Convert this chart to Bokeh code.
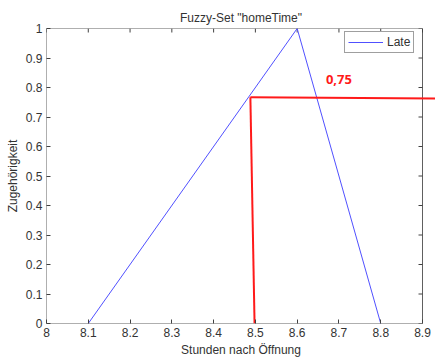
import math
from bokeh.plotting import figure
from bokeh.models import FixedTicker, Range1d, Legend, LegendItem
from bokeh.embed import file_html
from bokeh.resources import INLINE

# data
late_x = [8.1, 8.6, 8.8]
late_y = [0.0, 1.0, 0.0]
cut_v_x = [8.498, 8.488]
cut_v_y = [0.0, 0.767]
cut_h_x = [8.488, 8.935]
cut_h_y = [0.767, 0.763]
x_ticks = [8.0, 8.1, 8.2, 8.3, 8.4, 8.5, 8.6, 8.7, 8.8, 8.9]
x_labels = ["8", "8.1", "8.2", "8.3", "8.4", "8.5", "8.6", "8.7", "8.8", "8.9"]
y_ticks = [0.0, 0.1, 0.2, 0.3, 0.4, 0.5, 0.6, 0.7, 0.8, 0.9, 1.0]
y_labels = ["0", "0.1", "0.2", "0.3", "0.4", "0.5", "0.6", "0.7", "0.8", "0.9", "1"]
title_text = 'Fuzzy-Set "homeTime"'
note_text = "0,75"
note_x, note_y = 8.70, 0.828

FONT = "Liberation Sans"
AX = "#606060"
TICK = "#404040"
TXT = "#333333"

W, H = 435, 359
LEFT, TOP, BOTTOM = 46, 28, 35
axis_px = 376  # pixels spanned by the axis box 8.0 .. 8.9
x0, x1 = x_ticks[0], x_ticks[-1]
# let the frame run to the right edge so the red marker can leave the axis box
x_end = x0 + (x1 - x0) * (W - LEFT) / axis_px

p = figure(width=W, height=H, output_backend="svg", toolbar_location=None,
           x_range=Range1d(x0, x_end), y_range=Range1d(y_ticks[0], y_ticks[-1]),
           min_border_left=LEFT, min_border_right=0, min_border_top=TOP, min_border_bottom=BOTTOM)
p.grid.visible = False
p.outline_line_color = None
p.background_fill_color = "white"
p.border_fill_color = "white"

p.title.text = title_text
p.title.align = "center"
p.title.offset = -6
p.title.standoff = 7
p.title.text_font = FONT
p.title.text_font_size = "12px"
p.title.text_font_style = "normal"
p.title.text_color = TXT


def style_axis(ax, ticks, labels):
    ax.ticker = FixedTicker(ticks=ticks)
    ax.major_label_overrides = {t: l for t, l in zip(ticks, labels)}
    ax.major_tick_in = 4
    ax.major_tick_out = 0
    ax.minor_tick_in = 0
    ax.minor_tick_out = 0
    ax.axis_line_color = None
    ax.major_tick_line_color = TICK
    ax.major_label_text_font = FONT
    ax.major_label_text_font_size = "12px"
    ax.major_label_text_color = TXT
    ax.major_label_standoff = 4
    ax.axis_label_text_font = FONT
    ax.axis_label_text_font_size = "12px"
    ax.axis_label_text_font_style = "normal"
    ax.axis_label_text_color = TXT


style_axis(p.xaxis[0], x_ticks, x_labels)
style_axis(p.yaxis[0], y_ticks, y_labels)
p.xaxis[0].axis_label = "Stunden nach Öffnung"
p.xaxis[0].axis_label_standoff = 3
p.yaxis[0].axis_label = "Zugehörigkeit"
p.yaxis[0].axis_label_standoff = 3

# axis box around 8.0..8.9 x 0..1
p.line([x0, x1, x1, x0, x0], [y_ticks[0], y_ticks[0], y_ticks[-1], y_ticks[-1], y_ticks[0]],
       line_color=AX, line_width=1)
# inward ticks on the top and right sides
p.ray(x=x_ticks, y=[y_ticks[-1]] * len(x_ticks), length=4, length_units="screen",
      angle=-math.pi / 2, line_color=TICK, line_width=1)
p.ray(x=[x1] * len(y_ticks), y=y_ticks, length=4, length_units="screen",
      angle=math.pi, line_color=TICK, line_width=1)

r_late = p.line(late_x, late_y, line_color="#5050FF", line_width=1)

p.line(cut_v_x, cut_v_y, line_color="#FF1A1A", line_width=2)
p.line(cut_h_x, cut_h_y, line_color="#FF1A1A", line_width=2)

p.text(x=[note_x], y=[note_y], text=[note_text], text_color="#FF1A1A",
       text_font={"value": "Open Sans"}, text_font_style="bold", text_font_size="13px",
       text_align="center", text_baseline="middle")

legend = Legend(items=[LegendItem(label="Late", renderers=[r_late])], location=(298, 270))
legend.margin = 0
legend.padding = 3
legend.spacing = 0
legend.glyph_width = 35
legend.glyph_height = 12
legend.label_standoff = 4
legend.label_text_font = FONT
legend.label_text_font_size = "12px"
legend.label_text_color = TXT
legend.border_line_color = TICK
legend.border_line_width = 1
legend.background_fill_alpha = 1.0
p.add_layout(legend)

open("out.html", "w").write(file_html(p, INLINE))
